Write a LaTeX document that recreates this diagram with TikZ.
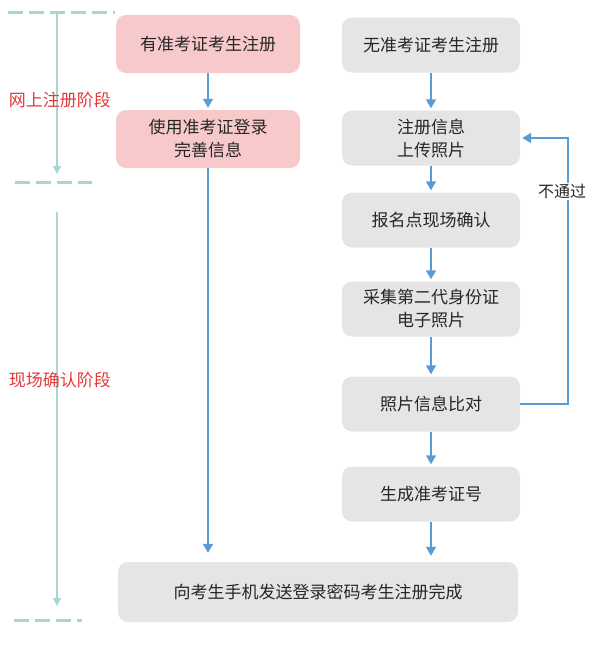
\documentclass[tikz,border=0pt]{standalone}
\usepackage{fontspec}
\newfontfamily\cjk{Noto Sans CJK SC}
\usetikzlibrary{arrows.meta}
\definecolor{pinkbox}{HTML}{F8C9CB}
\definecolor{graybox}{HTML}{E5E5E5}
\definecolor{flowblue}{HTML}{5B9BD5}
\definecolor{stagecol}{HTML}{A6D7D5}
\definecolor{stagered}{HTML}{E5383B}
\definecolor{boxtext}{HTML}{262626}
\begin{document}
\begin{tikzpicture}[x=1pt, y=-1pt,
  every node/.style={font=\cjk\fontsize{17}{23}\selectfont, text=boxtext},
  box/.style={rounded corners=10pt, minimum width=178pt, minimum height=55pt, align=center, inner sep=0pt},
  online/.style={box, fill=pinkbox, minimum width=184pt, minimum height=58pt},
  onsite/.style={box, fill=graybox},
  flow/.style={draw=flowblue, line width=1.4pt, -{Triangle[length=9pt,width=10pt]}, shorten >=2pt},
  stage/.style={draw=stagecol, line width=1.2pt, -{Triangle[length=8pt,width=8pt]}},
  stageline/.style={draw=stagecol, line width=3pt, dash pattern=on 15pt off 6pt},
  stagelabel/.style={text=stagered}]
\useasboundingbox (0,0) rectangle (600,648);
% stage markers
\draw[stageline] (8,12) -- (115,12);
\draw[stageline] (15,182) -- (92,182);
\draw[stageline] (14,620) -- (82,620);
\coordinate (s0) at (57,14);
\coordinate (s1) at (57,174);
\coordinate (s2) at (57,212);
\coordinate (s3) at (57,606);
\draw[stage] (s0) -- (s1);
\draw[stage] (s2) -- (s3);
\node[stagelabel] (web) at (60,100) {网上注册阶段};
\node[stagelabel] (site) at (60,380) {现场确认阶段};
% boxes
\node[online] (l1) at (208,44) {有准考证考生注册};
\node[online] (l2) at (208,139) {使用准考证登录\\完善信息};
\node[onsite] (r1) at (431,45) {无准考证考生注册};
\node[onsite] (r2) at (431,138) {注册信息\\上传照片};
\node[onsite] (r3) at (431,220) {报名点现场确认};
\node[onsite] (r4) at (431,309) {采集第二代身份证\\电子照片};
\node[onsite] (r5) at (431,404) {照片信息比对};
\node[onsite] (r6) at (431,494) {生成准考证号};
\node[onsite, minimum width=400pt, minimum height=60pt] (fin) at (318,592) {向考生手机发送登录密码考生注册完成};
% arrows
\draw[flow] (l1) -- (l2);
\draw[flow, shorten >=9pt] (l2) -- (l2 |- fin.north);
\draw[flow] (r1) -- (r2);
\draw[flow] (r2) -- (r3);
\draw[flow] (r3) -- (r4);
\draw[flow] (r4) -- (r5);
\draw[flow] (r5) -- (r6);
\draw[flow, shorten >=6pt] (r6.south) -- (r6.south |- fin.north);
\coordinate (back) at (568,404);
\draw[flow] (r5.east) -- (back) |- (r2.east) node[pos=0.4, fill=white, xshift=-6pt, inner sep=1pt, font=\cjk\fontsize{16}{20}\selectfont] (fail) {不通过};
\end{tikzpicture}
\end{document}
